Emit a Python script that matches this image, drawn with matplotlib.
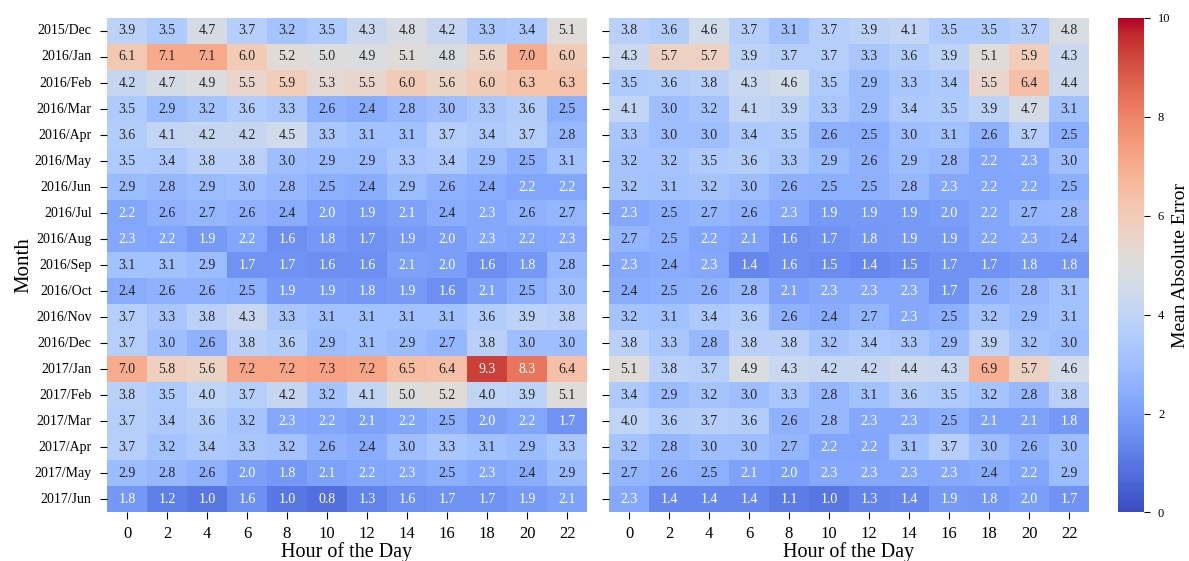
import matplotlib
matplotlib.use('Agg')
import matplotlib.pyplot as plt
import numpy as np
import seaborn as sns

plt.rcParams['font.family'] = ['Liberation Serif', 'DejaVu Serif']

months = ['2015/Dec', '2016/Jan', '2016/Feb', '2016/Mar', '2016/Apr', '2016/May',
          '2016/Jun', '2016/Jul', '2016/Aug', '2016/Sep', '2016/Oct', '2016/Nov',
          '2016/Dec', '2017/Jan', '2017/Feb', '2017/Mar', '2017/Apr', '2017/May',
          '2017/Jun']
hours = [0, 2, 4, 6, 8, 10, 12, 14, 16, 18, 20, 22]

# mean absolute error per month / hour bin, first model
mae_left = [
    [3.9, 3.5, 4.7, 3.7, 3.2, 3.5, 4.3, 4.8, 4.2, 3.3, 3.4, 5.1],
    [6.1, 7.1, 7.1, 6.0, 5.2, 5.0, 4.9, 5.1, 4.8, 5.6, 7.0, 6.0],
    [4.2, 4.7, 4.9, 5.5, 5.9, 5.3, 5.5, 6.0, 5.6, 6.0, 6.3, 6.3],
    [3.5, 2.9, 3.2, 3.6, 3.3, 2.6, 2.4, 2.8, 3.0, 3.3, 3.6, 2.5],
    [3.6, 4.1, 4.2, 4.2, 4.5, 3.3, 3.1, 3.1, 3.7, 3.4, 3.7, 2.8],
    [3.5, 3.4, 3.8, 3.8, 3.0, 2.9, 2.9, 3.3, 3.4, 2.9, 2.5, 3.1],
    [2.9, 2.8, 2.9, 3.0, 2.8, 2.5, 2.4, 2.9, 2.6, 2.4, 2.2, 2.2],
    [2.2, 2.6, 2.7, 2.6, 2.4, 2.0, 1.9, 2.1, 2.4, 2.3, 2.6, 2.7],
    [2.3, 2.2, 1.9, 2.2, 1.6, 1.8, 1.7, 1.9, 2.0, 2.3, 2.2, 2.3],
    [3.1, 3.1, 2.9, 1.7, 1.7, 1.6, 1.6, 2.1, 2.0, 1.6, 1.8, 2.8],
    [2.4, 2.6, 2.6, 2.5, 1.9, 1.9, 1.8, 1.9, 1.6, 2.1, 2.5, 3.0],
    [3.7, 3.3, 3.8, 4.3, 3.3, 3.1, 3.1, 3.1, 3.1, 3.6, 3.9, 3.8],
    [3.7, 3.0, 2.6, 3.8, 3.6, 2.9, 3.1, 2.9, 2.7, 3.8, 3.0, 3.0],
    [7.0, 5.8, 5.6, 7.2, 7.2, 7.3, 7.2, 6.5, 6.4, 9.3, 8.3, 6.4],
    [3.8, 3.5, 4.0, 3.7, 4.2, 3.2, 4.1, 5.0, 5.2, 4.0, 3.9, 5.1],
    [3.7, 3.4, 3.6, 3.2, 2.3, 2.2, 2.1, 2.2, 2.5, 2.0, 2.2, 1.7],
    [3.7, 3.2, 3.4, 3.3, 3.2, 2.6, 2.4, 3.0, 3.3, 3.1, 2.9, 3.3],
    [2.9, 2.8, 2.6, 2.0, 1.8, 2.1, 2.2, 2.3, 2.5, 2.3, 2.4, 2.9],
    [1.8, 1.2, 1.0, 1.6, 1.0, 0.8, 1.3, 1.6, 1.7, 1.7, 1.9, 2.1],
]

# second model
mae_right = [
    [3.8, 3.6, 4.6, 3.7, 3.1, 3.7, 3.9, 4.1, 3.5, 3.5, 3.7, 4.8],
    [4.3, 5.7, 5.7, 3.9, 3.7, 3.7, 3.3, 3.6, 3.9, 5.1, 5.9, 4.3],
    [3.5, 3.6, 3.8, 4.3, 4.6, 3.5, 2.9, 3.3, 3.4, 5.5, 6.4, 4.4],
    [4.1, 3.0, 3.2, 4.1, 3.9, 3.3, 2.9, 3.4, 3.5, 3.9, 4.7, 3.1],
    [3.3, 3.0, 3.0, 3.4, 3.5, 2.6, 2.5, 3.0, 3.1, 2.6, 3.7, 2.5],
    [3.2, 3.2, 3.5, 3.6, 3.3, 2.9, 2.6, 2.9, 2.8, 2.2, 2.3, 3.0],
    [3.2, 3.1, 3.2, 3.0, 2.6, 2.5, 2.5, 2.8, 2.3, 2.2, 2.2, 2.5],
    [2.3, 2.5, 2.7, 2.6, 2.3, 1.9, 1.9, 1.9, 2.0, 2.2, 2.7, 2.8],
    [2.7, 2.5, 2.2, 2.1, 1.6, 1.7, 1.8, 1.9, 1.9, 2.2, 2.3, 2.4],
    [2.3, 2.4, 2.3, 1.4, 1.6, 1.5, 1.4, 1.5, 1.7, 1.7, 1.8, 1.8],
    [2.4, 2.5, 2.6, 2.8, 2.1, 2.3, 2.3, 2.3, 1.7, 2.6, 2.8, 3.1],
    [3.2, 3.1, 3.4, 3.6, 2.6, 2.4, 2.7, 2.3, 2.5, 3.2, 2.9, 3.1],
    [3.8, 3.3, 2.8, 3.8, 3.8, 3.2, 3.4, 3.3, 2.9, 3.9, 3.2, 3.0],
    [5.1, 3.8, 3.7, 4.9, 4.3, 4.2, 4.2, 4.4, 4.3, 6.9, 5.7, 4.6],
    [3.4, 2.9, 3.2, 3.0, 3.3, 2.8, 3.1, 3.6, 3.5, 3.2, 2.8, 3.8],
    [4.0, 3.6, 3.7, 3.6, 2.6, 2.8, 2.3, 2.3, 2.5, 2.1, 2.1, 1.8],
    [3.2, 2.8, 3.0, 3.0, 2.7, 2.2, 2.2, 3.1, 3.7, 3.0, 2.6, 3.0],
    [2.7, 2.6, 2.5, 2.1, 2.0, 2.3, 2.3, 2.3, 2.3, 2.4, 2.2, 2.9],
    [2.3, 1.4, 1.4, 1.4, 1.1, 1.0, 1.3, 1.4, 1.9, 1.8, 2.0, 1.7],
]

fig = plt.figure(figsize=(11.89, 5.61), dpi=100)
ax1 = fig.add_axes([0.0900, 0.0865, 0.4037, 0.8815])
ax2 = fig.add_axes([0.5122, 0.0865, 0.4037, 0.8815])
cax = fig.add_axes([0.9403, 0.0865, 0.0219, 0.8815])

kw = dict(cmap='coolwarm', vmin=0, vmax=10, annot=True, fmt='.1f',
          annot_kws={'size': 10}, xticklabels=hours)
sns.heatmap(np.array(mae_left), ax=ax1, cbar=False, yticklabels=months, **kw)
sns.heatmap(np.array(mae_right), ax=ax2, cbar=True, cbar_ax=cax,
            yticklabels=False, **kw)

for ax in (ax1, ax2):
    ax.set_xlabel('Hour of the Day', fontsize=14.5, labelpad=0)
    ax.tick_params(axis='x', labelsize=12, rotation=0, length=5, pad=5)
    ax.tick_params(axis='y', labelsize=10, length=5, pad=6)
    ax.set_yticks(np.arange(len(months)) + 0.5)
ax2.set_yticklabels([])
ax1.set_yticklabels(months, rotation=0)
ax1.set_ylabel('Month', fontsize=15, labelpad=1)

cax.tick_params(labelsize=9, length=4, pad=6)
cax.set_ylabel('Mean Absolute Error', fontsize=14, labelpad=1)

fig.savefig('out.png', dpi=100)
